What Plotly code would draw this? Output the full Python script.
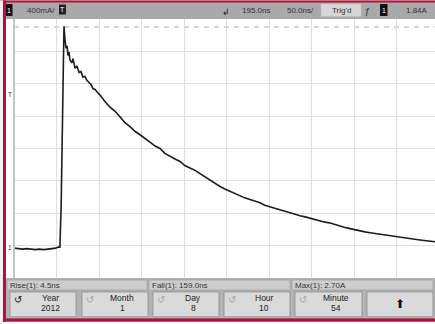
import plotly.graph_objects as go

# ---- data ----
t_ns = [-55, -50, -45, -40, -35, -30, -25, -20, -15, -10, -6, -3, -1,
        0.5, 2, 3, 3.8, 5.0, 6.2, 7.4, 8.5, 9.7, 10.9, 13.2, 14.4, 16.8,
        19.1, 21.5, 23.8, 26.2, 28.5, 30.9, 33.2, 35.6, 37.9, 40.3, 42.6,
        46.2, 52, 57.9, 64, 69.7, 75.5, 81.5, 87.5, 93.2, 99, 105, 111,
        116.8, 122.5, 128.5, 134.5, 140.3, 146, 152, 158, 163.8, 169.5,
        175.6, 181.5, 187.4, 193, 199.1, 205, 210.9, 216.5, 222.6, 228.5,
        234.4, 240, 246.2, 252, 257.9, 263.5, 269.7, 275.5, 281.5, 287.5,
        293.2, 299, 305, 311, 316.8, 322.5, 328.5, 334.5, 340.3, 346,
        352.1, 358, 363.8, 369.5, 375.6, 381.5, 387.4, 393, 399.1, 405,
        410.9, 416.5, 422.6, 428.5, 434.4, 441.5]
i_amp = [-0.031, -0.037, -0.043, -0.037, -0.043, -0.049, -0.043, -0.049,
         -0.043, -0.037, -0.031, -0.018, -0.02,
         0.5, 1.5, 2.3, 2.71, 2.54, 2.44, 2.47, 2.35, 2.39, 2.29, 2.26,
         2.31, 2.19, 2.22, 2.14, 2.15, 2.08, 2.09, 2.04, 2.02, 1.99, 1.94,
         1.93, 1.90, 1.86, 1.78, 1.71, 1.66, 1.59, 1.52, 1.47, 1.41, 1.37,
         1.32, 1.28, 1.23, 1.20, 1.14, 1.10, 1.07, 1.04, 0.99, 0.96, 0.93,
         0.89, 0.85, 0.81, 0.77, 0.73, 0.70, 0.67, 0.645, 0.62, 0.59, 0.57,
         0.55, 0.53, 0.50, 0.48, 0.46, 0.44, 0.425, 0.41, 0.39, 0.37, 0.355,
         0.34, 0.32, 0.30, 0.29, 0.28, 0.26, 0.24, 0.225, 0.21, 0.195, 0.18,
         0.17, 0.16, 0.15, 0.14, 0.13, 0.12, 0.11, 0.10, 0.093, 0.086,
         0.078, 0.07, 0.062, 0.053, 0.046]

top_labels = ["400mA/", "195.0ns", "50.0ns/", "Trig'd", "1.84A"]
meas_labels = ["Rise(1): 4.5ns", "Fall(1): 159.0ns", "Max(1): 2.70A"]
key_names = ["Year", "Month", "Day", "Hour", "Minute"]
key_values = ["2012", "1", "8", "10", "54"]

# ---- geometry ----
W, H = 435, 324
L, R_, T, B = 14, 0, 18.5, 45.5
PW = W - L - R_
PH = H - T - B
FONT = "Liberation Sans, Arial, sans-serif"
CRIMSON = "#a8173f"


def px(x):
    return (x - L) / PW


def py(y):
    return (H - B - y) / PH


fig = go.Figure()
fig.add_trace(go.Scatter(x=t_ns, y=i_amp, mode="lines",
                         line=dict(color="#1c1c1c", width=1.6),
                         hoverinfo="skip", showlegend=False))

shapes = []
ann = []


def rect(x0, y0, x1, y1, fill, line=None, lw=0):
    shapes.append(dict(type="rect", xref="paper", yref="paper",
                       x0=px(x0), x1=px(x1), y0=py(y1), y1=py(y0),
                       fillcolor=fill, line=dict(color=line or fill, width=lw),
                       layer="above"))


def text(x, y, s, size=8, color="#333333", anchor="left"):
    ann.append(dict(xref="paper", yref="paper", x=px(x), y=py(y), text=s,
                    showarrow=False, xanchor=anchor, yanchor="middle",
                    font=dict(family=FONT, size=size, color=color)))


# center dotted lines (over grid, below trace)
shapes.append(dict(type="line", xref="x", yref="paper", x0=195, x1=195, y0=0, y1=1,
                   line=dict(color="white", width=1.5), layer="between"))
shapes.append(dict(type="line", xref="x", yref="paper", x0=195, x1=195, y0=0, y1=1,
                   line=dict(color="#cfcfcf", width=1, dash="3px,3px"), layer="between"))
shapes.append(dict(type="line", xref="paper", yref="y", x0=0, x1=1, y0=1.2, y1=1.2,
                   line=dict(color="white", width=1.5), layer="between"))
shapes.append(dict(type="line", xref="paper", yref="y", x0=0, x1=1, y0=1.2, y1=1.2,
                   line=dict(color="#cfcfcf", width=1, dash="2px,4px"), layer="between"))
# max marker dashed
shapes.append(dict(type="line", xref="paper", yref="y", x0=0, x1=1, y0=2.70, y1=2.70,
                   line=dict(color="#c8c8c8", width=1.5, dash="5px,5px"), layer="between"))
# left edge of graticule
shapes.append(dict(type="line", xref="paper", yref="paper", x0=px(14), x1=px(14),
                   y0=0, y1=1, line=dict(color="#c4c4c4", width=2), layer="above"))

# top bar
rect(0, 0, 435, 18.5, "#a9a9a9")
rect(0, 0, 435, 2, CRIMSON)
rect(6, 3.5, 12.5, 15.5, "#111111")
text(9.2, 9.5, "1", 7, "white", "center")
text(25, 10, top_labels[0], 8, "#333333")
rect(59, 4, 66, 14, "#222222")
text(62.5, 9, "T", 7, "white", "center")
text(226, 11, "↲", 9, "#222222", "center")
text(240, 10, top_labels[1], 8, "#333333")
text(285, 10, top_labels[2], 8, "#333333")
rect(321, 3.5, 361, 16, "#d6d6d6", "#c0c0c0", 0.5)
text(341, 10, top_labels[3], 8, "#333333", "center")
text(367, 10, "ƒ", 9, "#222222", "center")
rect(380, 3.5, 387.5, 15.5, "#111111")
text(383.7, 9.5, "1", 7, "white", "center")
text(404, 10, top_labels[4], 8, "#333333")

# bottom area
rect(0, 278.5, 435, 319, "#b3b3b3")
rect(0, 319, 435, 322.5, CRIMSON)
mx = [(7, 147), (149, 290), (292, 433)]
for (a, b), s in zip(mx, meas_labels):
    rect(a, 280.5, b, 290.5, "#cdcdcd", "#9a9a9a", 0.6)
    text(a + 1, 285.7, s, 8, "#333333")
kx = [(10, 76), (82, 148), (153, 219), (224, 290), (295, 362), (367, 433)]
for i, (a, b) in enumerate(kx):
    rect(a, 292.5, b, 317.5, "#dadada", "#8e8e8e", 0.8)
    if i < 5:
        cx = (a + b) / 2 + 7
        text(cx, 298.5, key_names[i], 8.5, "#222222", "center")
        text(cx, 308.5, key_values[i], 8.5, "#222222", "center")
        text(a + 8, 300, "↺", 10, "#111111" if i == 0 else "#a8a8a8", "center")
    else:
        text((a + b) / 2, 305, "⬆", 12, "#111111", "center")

# left frame
rect(0, 0, 3, 324, "#f2f2f2")
rect(3, 0, 6, 322.5, CRIMSON)
rect(6, 18.5, 13, 278.5, "#ffffff")
# ground & trigger markers
text(9.5, 248, "1", 6.5, "#333333", "center")
text(9.5, 94.5, "T", 6.5, "#333333", "center")

fig.update_layout(
    width=W, height=H,
    margin=dict(l=L, r=R_, t=T, b=B, pad=0),
    paper_bgcolor="white", plot_bgcolor="white",
    xaxis=dict(range=[-55, -55 + PW / 42.5 * 50], tick0=-55, dtick=50,
               showgrid=True, gridcolor="#dedede", gridwidth=1,
               showticklabels=False, zeroline=False, ticks="", fixedrange=True),
    yaxis=dict(range=[-0.4, 2.8], tick0=0, dtick=0.4,
               showgrid=True, gridcolor="#dedede", gridwidth=1,
               showticklabels=False, zeroline=False, ticks="", fixedrange=True),
    shapes=shapes, annotations=ann, showlegend=False,
)
fig.write_html("out.html", config={"displayModeBar": False},
               post_script="document.body.style.margin='0';"
                           "document.body.style.overflow='hidden';")
